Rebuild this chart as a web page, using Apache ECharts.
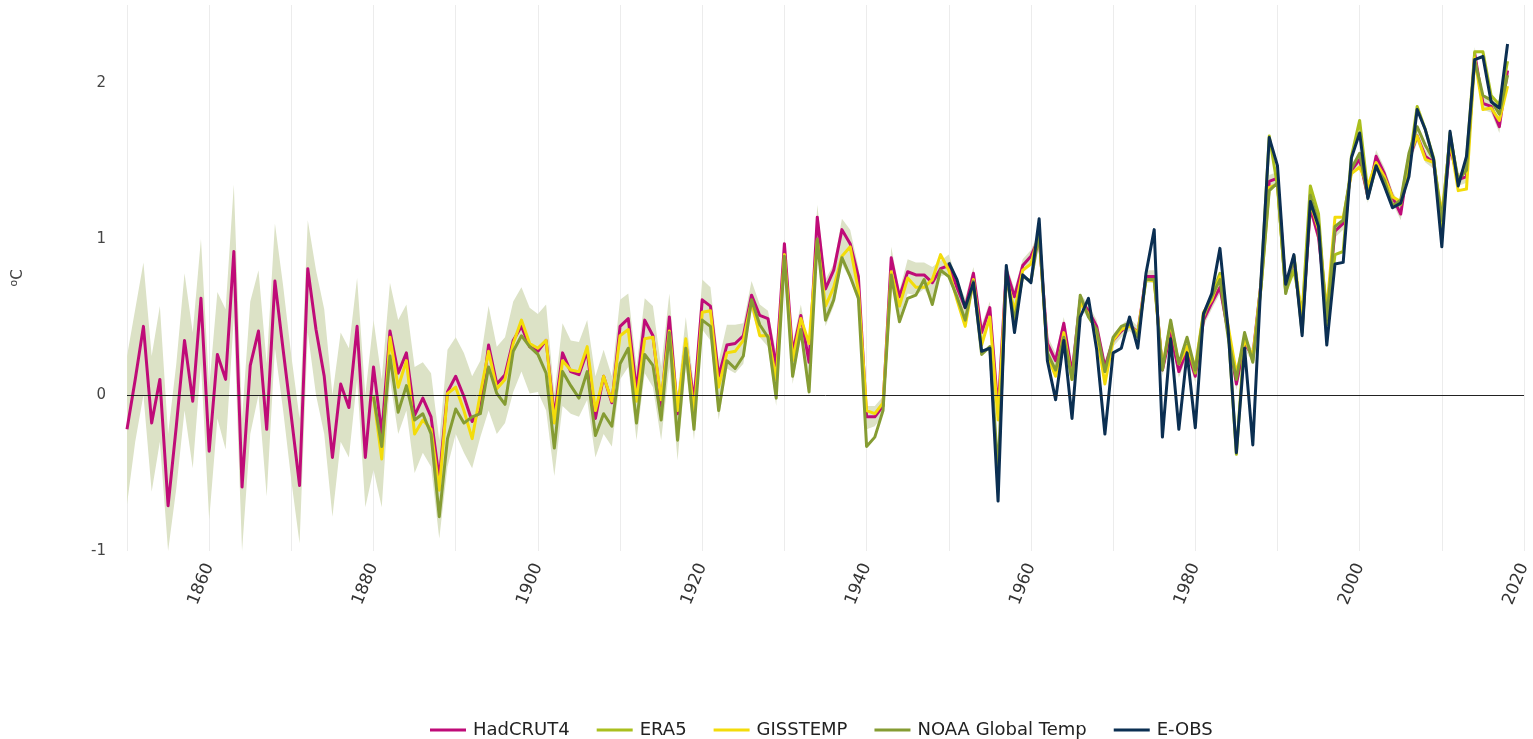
<!DOCTYPE html>
<html>
<head>
<meta charset="utf-8">
<script src="https://cdn.jsdelivr.net/npm/echarts@6/dist/echarts.min.js"></script>
<style>
html,body{margin:0;padding:0;background:#fff;}
#chart{width:1533px;height:739px;}
</style>
</head>
<body>
<div id="chart"></div>
<script>
// ---- data (European land temperature anomaly, °C) ----
const xTicks = [1860, 1880, 1900, 1920, 1940, 1960, 1980, 2000, 2020];
const yTicks = [-1, 0, 1, 2];
const seriesNames = ['HadCRUT4', 'ERA5', 'GISSTEMP', 'NOAA Global Temp', 'E-OBS'];

const hadcrut4Start = 1850;
const hadcrut4 = [
 -0.22,0.10,0.44,-0.18,0.10,-0.71,-0.20,0.35,-0.04,0.62,
 -0.36,0.26,0.10,0.92,-0.59,0.19,0.41,-0.22,0.73,0.29,
 -0.14,-0.58,0.81,0.42,0.12,-0.40,0.07,-0.08,0.44,-0.40,
 0.18,-0.25,0.41,0.14,0.27,-0.13,-0.02,-0.14,-0.54,0.02,
 0.12,-0.01,-0.17,-0.10,0.32,0.07,0.13,0.35,0.44,0.31,
 0.28,0.35,-0.14,0.27,0.15,0.13,0.28,-0.15,0.12,-0.05,
 0.44,0.49,0.03,0.48,0.38,-0.07,0.50,-0.12,0.33,-0.04,
 0.61,0.57,0.12,0.32,0.33,0.38,0.64,0.51,0.49,0.18,
 0.97,0.27,0.51,0.21,1.14,0.68,0.80,1.06,0.97,0.76,
 -0.14,-0.14,-0.07,0.88,0.63,0.79,0.77,0.77,0.72,0.81,
 0.83,0.69,0.56,0.78,0.40,0.56,-0.10,0.80,0.63,0.83,
 0.89,1.01,0.33,0.22,0.46,0.14,0.61,0.54,0.44,0.18,
 0.35,0.41,0.45,0.40,0.76,0.76,0.16,0.40,0.15,0.29,
 0.12,0.48,0.59,0.69,0.40,0.07,0.33,0.25,0.72,1.37,
 1.39,0.69,0.87,0.44,1.20,1.01,0.52,1.05,1.10,1.44,
 1.51,1.27,1.53,1.42,1.27,1.16,1.51,1.66,1.53,1.49,
 1.10,1.59,1.38,1.40,2.19,1.87,1.85,1.72,2.08
];

const era5Start = 1979;
const era5 = [
 0.33,0.14,0.50,0.64,0.78,0.42,-0.38,0.38,0.22,0.72,
 1.66,1.34,0.66,0.80,0.52,1.34,1.16,0.45,0.90,0.92,
 1.53,1.76,1.30,1.48,1.36,1.22,1.22,1.48,1.85,1.70,
 1.52,1.05,1.68,1.36,1.50,2.20,2.20,1.92,1.86,2.14
];

const gisstempStart = 1880;
const gisstemp = [
 -0.01,-0.41,0.37,0.05,0.22,-0.25,-0.16,-0.22,-0.61,0.01,
 0.05,-0.10,-0.28,0.01,0.28,0.04,0.10,0.33,0.48,0.33,
 0.30,0.35,-0.18,0.22,0.16,0.15,0.31,-0.10,0.12,-0.04,
 0.38,0.42,-0.04,0.36,0.37,-0.03,0.41,-0.10,0.36,-0.12,
 0.53,0.54,0.05,0.27,0.28,0.35,0.60,0.38,0.38,0.10,
 0.90,0.22,0.49,0.33,0.99,0.57,0.69,0.89,0.95,0.67,
 -0.10,-0.12,-0.05,0.79,0.57,0.75,0.69,0.69,0.74,0.90,
 0.80,0.61,0.44,0.74,0.32,0.50,-0.16,0.76,0.54,0.80,
 0.84,1.04,0.25,0.12,0.40,0.10,0.59,0.52,0.40,0.07,
 0.35,0.42,0.44,0.40,0.74,0.73,0.18,0.46,0.20,0.31,
 0.18,0.53,0.61,0.76,0.44,0.14,0.35,0.25,0.69,1.33,
 1.35,0.67,0.89,0.48,1.23,1.06,0.54,1.14,1.14,1.42,
 1.46,1.34,1.49,1.40,1.27,1.24,1.53,1.66,1.51,1.49,
 1.16,1.63,1.31,1.32,2.16,1.83,1.84,1.76,1.98
];

const noaaStart = 1880;
const noaa = [
 -0.01,-0.33,0.25,-0.11,0.06,-0.16,-0.12,-0.25,-0.78,-0.28,
 -0.09,-0.18,-0.14,-0.12,0.18,0.01,-0.06,0.28,0.38,0.31,
 0.26,0.14,-0.34,0.15,0.06,-0.02,0.15,-0.26,-0.12,-0.20,
 0.20,0.30,-0.18,0.26,0.19,-0.16,0.40,-0.29,0.30,-0.22,
 0.48,0.44,-0.10,0.22,0.17,0.25,0.61,0.45,0.37,-0.02,
 0.89,0.12,0.42,0.02,1.00,0.48,0.61,0.88,0.76,0.62,
 -0.33,-0.27,-0.10,0.77,0.47,0.62,0.64,0.74,0.58,0.80,
 0.76,0.63,0.48,0.73,0.26,0.31,-0.50,0.76,0.48,0.76,
 0.73,1.03,0.27,0.16,0.37,0.10,0.64,0.50,0.42,0.15,
 0.37,0.44,0.46,0.37,0.74,0.74,0.16,0.48,0.20,0.37,
 0.16,0.52,0.63,0.74,0.37,0.10,0.40,0.21,0.69,1.31,
 1.36,0.65,0.89,0.40,1.28,1.10,0.48,1.08,1.12,1.45,
 1.55,1.27,1.46,1.38,1.21,1.25,1.55,1.72,1.60,1.51,
 1.12,1.66,1.38,1.44,2.15,1.92,1.89,1.80,2.05
];

const eobsStart = 1950;
const eobs = [
 0.85,0.74,0.56,0.72,0.28,0.30,-0.68,0.83,0.40,0.77,
 0.72,1.13,0.22,-0.03,0.35,-0.15,0.50,0.62,0.29,-0.25,
 0.27,0.30,0.50,0.30,0.78,1.06,-0.27,0.36,-0.22,0.27,
 -0.21,0.52,0.65,0.94,0.42,-0.37,0.30,-0.32,0.74,1.65,
 1.47,0.71,0.90,0.38,1.24,1.08,0.32,0.84,0.85,1.52,
 1.68,1.26,1.47,1.34,1.20,1.23,1.40,1.83,1.70,1.51,
 0.95,1.69,1.34,1.53,2.15,2.17,1.88,1.84,2.25
];

// shaded uncertainty range, 1850-2018
const bandStart = 1850;
const bandUpper = [
 0.25,0.55,0.85,0.25,0.57,-0.25,0.20,0.78,0.40,1.00,
 0.05,0.66,0.55,1.35,-0.15,0.60,0.80,0.20,1.10,0.70,
 0.25,-0.15,1.12,0.80,0.55,0.00,0.40,0.30,0.75,0.00,
 0.48,0.10,0.72,0.48,0.58,0.18,0.21,0.14,-0.29,0.29,
 0.37,0.27,0.12,0.22,0.57,0.31,0.37,0.60,0.69,0.56,
 0.52,0.58,0.01,0.46,0.35,0.34,0.48,0.12,0.29,0.12,
 0.61,0.65,0.18,0.62,0.57,0.18,0.65,0.01,0.50,0.05,
 0.74,0.69,0.22,0.45,0.45,0.46,0.73,0.58,0.54,0.27,
 1.00,0.33,0.58,0.29,1.22,0.74,0.84,1.13,1.06,0.82,
 -0.07,-0.07,-0.01,0.95,0.67,0.87,0.85,0.85,0.82,0.86,
 0.90,0.74,0.62,0.82,0.45,0.60,-0.05,0.84,0.68,0.87,
 0.93,1.05,0.38,0.27,0.50,0.18,0.65,0.58,0.48,0.22,
 0.39,0.45,0.49,0.44,0.80,0.80,0.20,0.44,0.19,0.33,
 0.16,0.52,0.63,0.73,0.44,0.11,0.37,0.29,0.76,1.41,
 1.43,0.73,0.91,0.48,1.24,1.05,0.56,1.09,1.14,1.48,
 1.55,1.31,1.57,1.46,1.31,1.20,1.55,1.70,1.57,1.53,
 1.14,1.63,1.42,1.44,2.23,1.91,1.89,1.76,2.12
];
const bandLower = [
 -0.70,-0.30,0.00,-0.62,-0.30,-1.00,-0.60,-0.10,-0.47,0.20,
 -0.80,-0.15,-0.35,0.50,-1.00,-0.25,0.00,-0.65,0.30,-0.10,
 -0.55,-0.95,0.40,0.00,-0.25,-0.78,-0.30,-0.40,0.10,-0.72,
 -0.48,-0.72,0.10,-0.25,-0.10,-0.50,-0.37,-0.46,-0.92,-0.46,
 -0.25,-0.37,-0.47,-0.27,-0.10,-0.25,-0.18,0.02,0.15,0.01,
 0.02,-0.10,-0.52,-0.07,-0.12,-0.14,-0.03,-0.40,-0.25,-0.33,
 0.10,0.18,-0.29,0.14,0.05,-0.29,0.18,-0.42,0.18,-0.29,
 0.42,0.35,-0.16,0.17,0.14,0.20,0.54,0.37,0.31,-0.07,
 0.84,0.07,0.37,-0.01,0.95,0.44,0.57,0.84,0.74,0.59,
 -0.22,-0.20,-0.13,0.74,0.50,0.65,0.64,0.68,0.60,0.76,
 0.78,0.62,0.48,0.72,0.33,0.48,-0.18,0.74,0.56,0.78,
 0.84,0.98,0.28,0.17,0.41,0.09,0.56,0.49,0.39,0.13,
 0.31,0.37,0.41,0.36,0.72,0.72,0.12,0.36,0.11,0.25,
 0.08,0.44,0.55,0.65,0.36,0.03,0.29,0.21,0.68,1.33,
 1.35,0.65,0.83,0.40,1.16,0.97,0.48,1.01,1.06,1.40,
 1.47,1.23,1.49,1.38,1.23,1.12,1.47,1.62,1.49,1.45,
 1.06,1.55,1.34,1.36,2.15,1.83,1.81,1.68,2.04
];

// ---- helpers ----
function pairs(start, arr) { return arr.map((v, i) => [start + i, v]); }

const colors = {
  'HadCRUT4': '#bf0b78',
  'ERA5': '#aabf1e',
  'GISSTEMP': '#f3dc0a',
  'NOAA Global Temp': '#859c33',
  'E-OBS': '#0b2f52'
};
const bandColor = '#dce2c6';
const FONT = 'DejaVu Sans';

const chart = echarts.init(document.getElementById('chart'), null, {renderer: 'canvas'});

function lineSeries(name, start, arr) {
  return {
    name: name,
    type: 'line',
    data: pairs(start, arr),
    showSymbol: false,
    symbol: 'none',
    lineStyle: {color: colors[name], width: 3, join: 'round'},
    itemStyle: {color: colors[name]},
    emphasis: {disabled: true},
    silent: true
  };
}

const bandData = bandUpper.map((u, i) => [bandStart + i, bandLower[i], u]);

const option = {
  animation: false,
  backgroundColor: '#ffffff',
  grid: {left: 127, right: 3, top: 5, bottom: 188, containLabel: false},
  legend: {
    top: 716,
    left: 425,
    itemWidth: 36,
    itemHeight: 3,
    itemGap: 27,
    icon: 'rect',
    data: seriesNames,
    textStyle: {fontFamily: FONT, fontSize: 18, color: '#222', padding: [0, 0, 0, 2]}
  },
  xAxis: {
    type: 'value',
    min: 1850,
    max: 2020,
    interval: 10,
    axisLine: {show: false},
    axisTick: {show: false},
    splitLine: {show: true, lineStyle: {color: '#ececec', width: 1}},
    axisLabel: {
      rotate: 68,
      margin: 13,
      fontFamily: FONT,
      fontSize: 17,
      color: '#333',
      formatter: v => (xTicks.indexOf(v) >= 0 ? String(v) : '')
    }
  },
  yAxis: {
    type: 'value',
    min: -1,
    max: 2.5,
    interval: 1,
    name: '{s|o}{n|C}',
    nameLocation: 'middle',
    nameRotate: 90,
    nameGap: 100,
    nameTextStyle: {
      rich: {
        s: {fontFamily: FONT, fontSize: 11, color: '#444', verticalAlign: 'top', lineHeight: 18, padding: [0, 0, 6, 0]},
        n: {fontFamily: FONT, fontSize: 15, color: '#444', lineHeight: 18}
      }
    },
    axisLine: {show: false},
    axisTick: {show: false},
    splitLine: {show: false},
    axisLabel: {
      margin: 21,
      fontFamily: FONT,
      fontSize: 15,
      color: '#444',
      formatter: v => (yTicks.indexOf(v) >= 0 ? String(v) : '')
    }
  },
  series: [
    {
      name: 'band',
      type: 'custom',
      data: bandData,
      encode: {x: 0, y: [1, 2]},
      silent: true,
      renderItem: function (params, api) {
        if (params.dataIndex !== 0) return null;
        const up = [], low = [];
        for (let i = 0; i < bandData.length; i++) {
          up.push(api.coord([bandData[i][0], bandData[i][2]]));
          low.push(api.coord([bandData[i][0], bandData[i][1]]));
        }
        const points = up.concat(low.reverse());
        return {
          type: 'polygon',
          shape: {points: points},
          style: {fill: bandColor, stroke: null},
          silent: true
        };
      },
      markLine: {
        silent: true,
        symbol: ['none', 'none'],
        label: {show: false},
        lineStyle: {color: '#222', width: 1, type: 'solid'},
        data: [{yAxis: 0}]
      }
    },
    lineSeries('HadCRUT4', hadcrut4Start, hadcrut4),
    lineSeries('ERA5', era5Start, era5),
    lineSeries('GISSTEMP', gisstempStart, gisstemp),
    lineSeries('NOAA Global Temp', noaaStart, noaa),
    lineSeries('E-OBS', eobsStart, eobs)
  ]
};
chart.setOption(option);
</script>
</body>
</html>
